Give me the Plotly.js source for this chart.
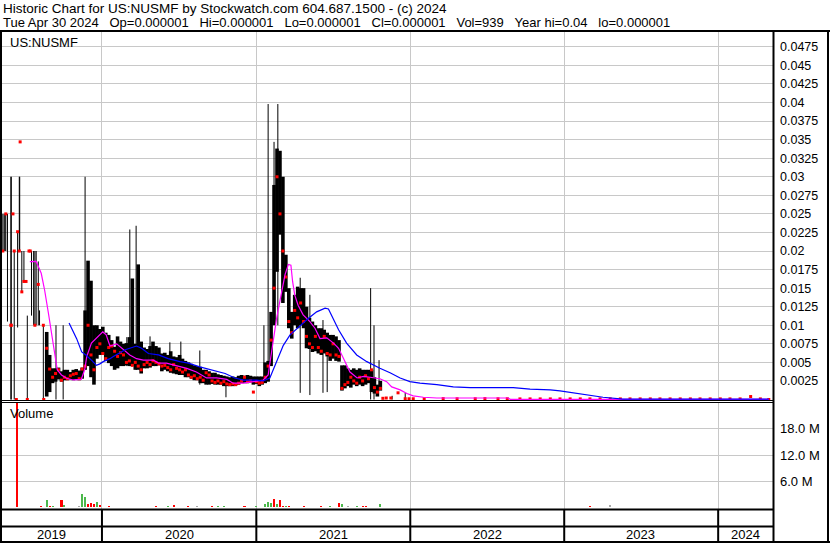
<!DOCTYPE html>
<html><head><meta charset="utf-8">
<script src="https://cdn.plot.ly/plotly-3.0.1.min.js"></script>
<style>html,body{margin:0;padding:0;background:#fff;}#chart{width:830px;height:543px;}</style>
</head><body><div id="chart"></div>
<script>
// ---------- DATA ----------
const weekDates = ['2019-05-10','2019-05-17','2019-05-24','2019-05-31','2019-06-07','2019-06-14','2019-06-21','2019-06-28','2019-07-05','2019-07-12','2019-07-19','2019-07-26','2019-08-02','2019-08-09','2019-08-16','2019-08-23','2019-08-30','2019-09-06','2019-09-13','2019-09-20','2019-09-27','2019-10-04','2019-10-11','2019-10-18','2019-10-25','2019-11-01','2019-11-08','2019-11-15','2019-11-22','2019-11-29','2019-12-06','2019-12-13','2019-12-20','2019-12-27',
'2020-01-03','2020-01-10','2020-01-17','2020-01-24','2020-01-31','2020-02-07','2020-02-14','2020-02-21','2020-02-28','2020-03-06','2020-03-13','2020-03-20','2020-03-27','2020-04-03','2020-04-10','2020-04-17','2020-04-24','2020-05-01','2020-05-08','2020-05-15','2020-05-22','2020-05-29','2020-06-05','2020-06-12','2020-06-19','2020-06-26','2020-07-03','2020-07-10','2020-07-17','2020-07-24','2020-07-31','2020-08-07','2020-08-14','2020-08-21','2020-08-28','2020-09-04','2020-09-11','2020-09-18','2020-09-25','2020-10-02','2020-10-09','2020-10-16','2020-10-23','2020-10-30','2020-11-06','2020-11-13','2020-11-20','2020-11-27','2020-12-04','2020-12-11','2020-12-18','2020-12-25',
'2021-01-01','2021-01-08','2021-01-15','2021-01-22','2021-01-29','2021-02-05','2021-02-12','2021-02-19','2021-02-26','2021-03-05','2021-03-12','2021-03-19','2021-03-26','2021-04-02','2021-04-09','2021-04-16','2021-04-23','2021-04-30','2021-05-07','2021-05-14','2021-05-21','2021-05-28','2021-06-04','2021-06-11','2021-06-18','2021-06-25','2021-07-02','2021-07-09','2021-07-16','2021-07-23','2021-07-30','2021-08-06','2021-08-13','2021-08-20','2021-08-27','2021-09-03','2021-09-10','2021-09-17','2021-09-24','2021-10-01','2021-10-08','2021-10-15','2021-10-22','2021-10-29','2021-11-05','2021-11-12','2021-11-19','2021-11-26','2021-12-03','2021-12-10','2021-12-17','2021-12-24','2021-12-31'];

const N = null;
// weekly trading range (dense part of the chart)
const wkHi = [N,N,N,N,N,N,N,N,N,N,N,N,N,N,N,
.0091,.0060,.0042,.0042,.0043,.0038,.0040,.0040,.0037,.0040,.0041,.0039,.0043,.0120,.0187,.0160,.0100,.0100,.0095,
.0098,.0090,.0087,.0080,.0071,.0085,.0078,.0075,.0076,.0084,.0163,.0075,.0182,.0078,.0070,.0068,.0072,.0078,.0072,.0070,.0062,.0063,.0060,.0065,.0058,.0057,.0060,.0055,.0052,.0050,.0048,.0046,.0045,.0044,.0040,.0040,.0038,.0036,.0036,.0034,.0033,.0032,.0031,.0030,.0031,.0030,.0032,.0033,.0032,.0033,.0032,.0031,
.0031,.0031,.0031,.0050,.0052,.0118,.0289,.0338,.0335,.0300,.0195,.0150,.0118,.0141,.0152,.0150,.0150,.0125,.0110,.0105,.0100,.0096,.0096,.0094,.0090,.0087,.0087,.0085,.0080,.0046,.0046,.0042,.0040,.0042,.0040,.0042,.0040,.0040,.0040,.0040,.0030,.0020,.0025,
N,N,N,N,N,N,N,N,N,N];
const wkLo = [N,N,N,N,N,N,N,N,N,N,N,N,N,N,N,
.0004,.0010,.0022,.0024,.0027,.0024,.0026,.0026,.0027,.0026,.0027,.0026,.0028,.0040,.0045,.0030,.0020,.0055,.0060,
.0060,.0052,.0049,.0045,.0040,.0042,.0045,.0045,.0046,.0045,.0045,.0040,.0040,.0035,.0042,.0042,.0043,.0045,.0045,.0046,.0038,.0040,.0038,.0036,.0035,.0034,.0033,.0033,.0030,.0030,.0028,.0026,.0026,.0022,.0022,.0020,.0020,.0021,.0020,.0020,.0020,.0018,.0018,.0018,.0018,.0019,.0020,.0022,.0022,.0022,.0023,.0020,
.0021,.0018,.0020,.0022,.0024,.0045,.0100,.0172,.0222,.0130,.0145,.0096,.0082,.0100,.0096,.0100,.0096,.0069,.0068,.0064,.0065,.0062,.0060,.0062,.0058,.0052,.0055,.0052,.0051,.0012,.0015,.0018,.0016,.0020,.0018,.0020,.0018,.0020,.0022,.0010,.0008,.0004,.0012,
N,N,N,N,N,N,N,N,N,N];
const wkCl = [N,N,N,N,N,N,N,N,N,N,N,N,N,N,N,
.0069,.0041,.0030,.0035,.0040,.0026,.0030,.0028,.0032,.0034,.0035,.0028,.0041,.0045,.0100,.0060,.0040,.0070,.0075,
.0062,.0055,.0070,.0072,.0065,.0058,.0063,.0060,.0050,.0052,.0046,.0050,.0045,.0040,.0047,.0050,.0047,.0052,.0050,.0048,.0045,.0046,.0043,.0040,.0047,.0042,.0040,.0037,.0040,.0033,.0030,.0032,.0028,.0030,.0026,.0036,.0033,.0025,.0023,.0025,.0022,.0024,.0021,.0020,.0021,.0020,.0022,.0025,.0030,.0024,.0025,.0010,
.0024,.0022,.0023,.0030,.0045,.0080,.0150,.0300,.0250,.0200,.0165,.0105,.0090,.0120,.0110,.0130,.0105,.0085,.0075,.0070,.0085,.0070,.0065,.0085,.0062,.0060,.0075,.0060,.0058,.0015,.0020,.0023,.0030,.0025,.0022,.0030,.0025,.0032,.0028,.0040,.0016,.0010,.0015,
N,N,N,N,N,N,N,N,N,N];
// weekly volume in millions of shares, direction u=up d=down n=unchanged
const wkVol = [.15,.1,.12,.1,.15,30,.2,.1,.12,.1,.1,.15,.1,.3,.2,1.7,.3,.35,.15,.2,1.7,.5,.1,.2,.1,.2,.25,3.2,2.5,.9,1.0,.7,1.2,.6,
.2,.15,.25,.1,.15,.1,.2,.1,.1,.15,.2,.1,.15,.1,.1,.15,.1,.2,.35,.1,.15,.1,.3,.15,.65,.1,.15,.1,.2,.3,.1,.15,.3,.1,.15,.1,.2,.35,.15,.3,.1,.3,.1,.15,.1,.2,.15,.2,.3,.15,.2,.15,
.25,.2,.15,.8,1.2,1.1,1.95,.8,1.7,.45,.3,.25,.2,.15,.2,.15,.25,.15,.2,.1,.15,.1,.35,.1,.15,.35,.1,.15,1.1,.8,.15,.3,.15,.1,.35,.1,.3,.3,.1,.15,.1,.1,.8,.1,.15,.1,.1,.1,.15,.1,.1,.1,.15];
const wkDir = ['u','d','u','d','d','d','d','u','d','u','u','d','d','d','d','u','d','u','d','d','d','u','d','n','d','u','n','u','u','d','d','d','u','d',
'n','u','d','u','d','d','d','u','d','d','u','d','d','d','u','d','d','d','d','u','d','d','u','d','d','u','d','d','d','d','u','n','n','d','u','d','d','d','u','u','d','u','d','n','d','u','d','u','d','d','u','d',
'u','n','d','u','u','u','d','u','d','d','u','d','d','n','d','n','d','u','u','d','d','d','d','u','d','u','d','d','d','u','d','n','d','n','u','d','d','d','d','n','d','u','u','d','n','d','n','d','u','n','d','n','u'];

// single-day wide-range bars
const spDate = ['2019-05-11','2019-05-14','2019-05-16','2019-05-18','2019-05-22','2019-05-30','2019-05-31','2019-06-07','2019-06-15','2019-06-19','2019-06-20','2019-06-25','2019-06-30','2019-07-08','2019-07-18','2019-07-23','2019-07-26','2019-07-29','2019-08-03','2019-08-06','2019-08-15','2019-09-14','2019-10-01','2019-11-22','2019-12-15',
'2020-02-29','2020-03-07','2020-03-22','2020-04-24','2020-06-10','2020-07-06','2020-08-20','2020-10-21',
'2021-01-19','2021-01-29','2021-02-12','2021-02-21','2021-04-15','2021-05-08','2021-06-08','2021-06-18','2021-09-29','2021-10-07','2021-10-19','2021-11-19','2021-12-20'];
const spHi = [.025,.025,.025,.025,.025,.030,.030,.020,.0226,.030,.030,.020,.020,.0113,.020,.020,.020,.020,.0186,.012,.010,.010,.010,.030,.0095,
.0084,.0229,.0234,.0085,.0077,.0078,.0066,.0031,
.0100,.0398,.0347,.0398,.0164,.0141,.0107,.0087,.0150,.0100,.0053,.0005,.0009];
const spLo = [.020,.020,.020,.020,.0105,0,0,0,.0097,.020,.020,.0145,.0159,0,.0113,.010,.010,.010,.010,.010,0,0,0,.0040,.0025,
.0045,.0045,.0040,.0045,.0040,.0035,.0020,.0003,
.0030,.0030,.0150,.0100,.0009,.0006,.0009,.0010,0,0,.0015,0,0];

// closes shown outside the weekly ranges
const dotDate = ['2019-05-11','2019-05-18','2019-05-30','2019-05-31','2019-06-04','2019-06-07','2019-06-12','2019-06-15','2019-06-19','2019-06-21','2019-06-25','2019-06-30','2019-07-05','2019-07-08','2019-07-12','2019-07-15','2019-07-26','2019-08-03','2019-08-15','2019-08-16',
'2021-10-28','2021-11-05','2021-11-16','2021-12-03','2021-12-20','2021-12-29'];
const dotVal = [.020,.025,.010,.010,.025,.020,0,.0226,.020,.0347,.0145,.0159,.0159,0,.020,.020,.010,.0155,.010,0,
.00016,.0002,.0002,.0009,.0001,.0001];

// 2022-2024: closes and volume
const lateDate = ['2022-01-08','2022-02-03','2022-03-20','2022-04-22','2022-06-04','2022-06-27','2022-07-28','2022-08-19','2022-09-18','2022-10-12','2022-11-05','2022-11-29','2022-12-22','2023-01-15','2023-02-08','2023-03-03','2023-03-27','2023-04-20','2023-05-14','2023-06-06','2023-06-30','2023-07-24','2023-08-16','2023-09-09','2023-10-03','2023-10-27','2023-11-19','2023-12-13','2024-01-06','2024-01-29','2024-02-22','2024-03-18','2024-04-10','2024-04-30'];
const lateClose = [.0001,.0001,.00012,.0001,.0001,.00012,.0001,.0001,.00008,.00008,.00008,.00008,.00008,.00008,.00008,.00008,.00008,.00008,.00008,.00008,.00008,.00008,.00008,.00008,.00008,.00008,.00008,.00008,.00008,.00008,.00008,.0004,.00008,.000001];
const lateVol = [.1,.15,.1,.1,.15,.1,.1,.15,.1,.15,.1,.1,.15,.1,.2,.35,.2,.6,.15,.1,.15,.1,.15,.1,.15,.1,.15,.1,.15,.1,.15,.1,.1,.0009];
const lateDir = ['d','u','d','n','d','u','d','d','n','d','n','d','n','n','n','d','n','n','u','d','n','d','u','n','n','d','n','d','d','u','d','d','d','n'];

// moving averages (pink = short, blue = long)
const pinkDate = ['2019-07-14','2019-07-29','2019-08-10','2019-08-18','2019-08-27','2019-09-03','2019-09-11','2019-09-17','2019-09-27','2019-10-09','2019-10-25','2019-11-13','2019-11-21','2019-11-26','2019-12-07','2019-12-23',
'2020-01-03','2020-01-11','2020-01-20','2020-02-05','2020-02-17','2020-03-07','2020-03-23','2020-04-08','2020-05-02','2020-05-14','2020-06-02','2020-06-26','2020-07-20','2020-08-12','2020-08-28','2020-09-05','2020-09-29','2020-10-23','2020-11-07','2020-12-01','2020-12-25',
'2021-01-17','2021-01-29','2021-02-06','2021-02-18','2021-02-27','2021-03-10','2021-03-18','2021-03-24','2021-03-28','2021-04-02','2021-04-10','2021-04-22','2021-05-08','2021-05-20','2021-06-01','2021-06-17','2021-07-03','2021-07-15','2021-07-27','2021-08-11','2021-08-28','2021-09-12','2021-09-28','2021-10-21','2021-11-06','2021-11-18','2021-12-08','2021-12-24',
'2022-01-08','2022-02-01','2022-03-05','2022-08-21','2022-08-26','2024-04-30'];
const pinkVal = [.01856,.0186,.0170,.01475,.01165,.0089,.00577,.0040,.0033,.00286,.00263,.00272,.0040,.0058,.0076,.0085,
.0091,.0087,.0072,.0075,.0069,.0060,.0055,.0053,.0053,.0049,.0049,.0046,.0042,.0037,.0031,.0029,.0029,.0027,.0022,.0022,.0024,
.0026,.0033,.0064,.0109,.0136,.0168,.0182,.0181,.0159,.0141,.0127,.0114,.0105,.0096,.0082,.0083,.0076,.0069,.0055,.0037,.0029,.0031,.0030,.0028,.0024,.0017,.0013,.0008,
.0005,.0003,.0002,.0002,.00003,.00003];
const blueDate = ['2019-10-15','2019-11-02','2019-11-14','2019-11-24','2019-12-07','2019-12-19','2019-12-27',
'2020-01-04','2020-01-20','2020-01-28','2020-02-25','2020-03-23','2020-04-04','2020-04-20','2020-05-14','2020-06-06','2020-07-04','2020-07-24','2020-08-20','2020-09-21','2020-10-19','2020-11-11','2020-12-01',
'2021-01-02','2021-01-17','2021-02-02','2021-02-18','2021-03-06','2021-03-22','2021-04-15','2021-05-04','2021-05-24','2021-06-13','2021-06-21','2021-06-29','2021-07-15','2021-08-03','2021-08-27','2021-09-20','2021-10-13','2021-10-21','2021-11-14','2021-12-08','2021-12-31',
'2022-01-24','2022-03-05','2022-04-13','2022-05-23','2022-09-02','2022-10-12','2022-11-29','2022-12-22',
'2023-01-22','2023-02-24','2023-04-03','2023-05-20','2024-04-30'];
const blueVal = [.0103,.0082,.0064,.0060,.0053,.0046,.0048,
.0051,.0055,.0058,.0067,.0072,.0069,.0062,.0060,.0055,.0051,.0049,.0044,.0039,.0035,.0029,.0026,
.0026,.0025,.0029,.0051,.0073,.0087,.0100,.0109,.0118,.0123,.0122,.0112,.0094,.0076,.0060,.0051,.0044,.0042,.0036,.0029,.0024,
.0022,.0020,.0017,.0016,.0016,.0014,.0013,.00115,
.0009,.0006,.0003,.00004,.00004];

const yearLabels = ['2019','2020','2021','2022','2023','2024'];
const priceTickText = ['0.0025','0.005','0.0075','0.01','0.0125','0.015','0.0175','0.02','0.0225','0.025','0.0275','0.03','0.0325','0.035','0.0375','0.04','0.0425','0.045','0.0475'];
const volTickText = ['6.0 M','12.0 M','18.0 M'];
const headerLine1 = 'Historic Chart for US:NUSMF by Stockwatch.com 604.687.1500 - (c) 2024';
const headerLine2 = ['Tue Apr 30 2024','Op=0.000001','Hi=0.000001','Lo=0.000001','Cl=0.000001','Vol=939','Year hi=0.04','lo=0.000001'];

// ---------- BUILD ----------
const X0 = '2019-05-09', X1 = '2024-05-10';
const L = 2, R = 773, T = 32, B = 509;
const px = x => (x - L) / (R - L);
const py = y => (B - y) / (B - T);

function segs(dates, hi, lo) {
  const xs = [], ys = [];
  for (let i = 0; i < dates.length; i++) {
    if (hi[i] == null || lo[i] == null) continue;
    xs.push(dates[i], dates[i], null);
    ys.push(lo[i], hi[i], null);
  }
  return {xs, ys};
}
const thick = segs(weekDates, wkHi, wkLo);
const thin = segs(spDate, spHi, spLo);
const colorOf = d => d === 'u' ? '#4cb84c' : (d === 'd' ? '#ff0000' : '#a8a8a8');

const dotsX = [], dotsY = [];
weekDates.forEach((d, i) => { if (wkCl[i] != null) { dotsX.push(d); dotsY.push(wkCl[i]); } });
dotDate.forEach((d, i) => { dotsX.push(d); dotsY.push(dotVal[i]); });
lateDate.forEach((d, i) => { dotsX.push(d); dotsY.push(lateClose[i]); });

const volX = weekDates.concat(lateDate);
const volY = wkVol.concat(lateVol);
const volC = wkDir.concat(lateDir).map(colorOf);

const traces = [
  {type:'bar', x:volX, y:volY, xaxis:'x', yaxis:'y2', marker:{color:volC, line:{width:0}}, width:5*86400000, hoverinfo:'skip'},
  {type:'scatter', mode:'lines', x:thin.xs, y:thin.ys, line:{color:'#000', width:1}, connectgaps:false, hoverinfo:'skip'},
  {type:'scatter', mode:'lines', x:thick.xs, y:thick.ys, line:{color:'#000', width:3.6}, connectgaps:false, hoverinfo:'skip'},
  {type:'scatter', mode:'markers', x:dotsX, y:dotsY, marker:{symbol:'square', size:3, color:'#ff0000', line:{width:0}}, hoverinfo:'skip'},
  {type:'scatter', mode:'lines', x:pinkDate, y:pinkVal, line:{color:'#ff00ff', width:1.2}, hoverinfo:'skip'},
  {type:'scatter', mode:'lines', x:blueDate, y:blueVal, line:{color:'#0000ff', width:1.2}, hoverinfo:'skip'}
];

const yearStarts = yearLabels.slice(1).map(y => y + '-01-01');
const t0 = Date.parse(X0), t1 = Date.parse(X1);
const yearCenters = yearLabels.map(y => {
  const a = Math.max(Date.parse(y + '-01-01'), t0);
  const b = Math.min(Date.parse((+y + 1) + '-01-01'), t1);
  return new Date((a + b) / 2).toISOString().slice(0, 10);
});

const FONT = 'Liberation Sans, Arial, sans-serif';
const fs = 12.5;
const line = (x0, y0, x1, y1, w) => ({type:'line', xref:'paper', yref:'paper', x0:px(x0), y0:py(y0), x1:px(x1), y1:py(y1), line:{color:'#000', width:w}, layer:'above'});
const shapes = [
  line(0, 31, 830, 31, 2),
  line(1, 31, 1, 543, 2),
  line(773.5, 31, 773.5, 543, 2),
  line(828, 31, 828, 543, 2),
  line(0, 400.5, 773, 400.5, 1),
  line(0, 402.5, 773, 402.5, 1),
  line(0, 509.5, 773, 509.5, 2),
  line(0, 526.5, 773, 526.5, 2),
  line(0, 542, 830, 542, 2)
].concat(yearStarts.map(d => ({type:'line', xref:'x', yref:'paper', x0:d, x1:d, y0:py(509), y1:py(542), line:{color:'#000', width:2}, layer:'above'})));

const nb = '\u00a0\u00a0\u00a0';
const ann = (x, y, text, size) => ({xref:'paper', yref:'paper', x:px(x), y:py(y), text:text, showarrow:false, xanchor:'left', yanchor:'middle', font:{family:FONT, size:size || fs, color:'#000'}});
const annotations = [
  ann(1, 8, headerLine1, 13.5),
  ann(1, 22, headerLine2.join(nb), 13),
  ann(8, 42, 'US:NUSMF', 13),
  ann(8, 413, 'Volume', 13)
].concat(yearLabels.map((y, i) => ({xref:'x', yref:'paper', x:yearCenters[i], y:py(534), text:y, showarrow:false, xanchor:'center', yanchor:'middle', font:{family:FONT, size:13, color:'#000'}})));

const priceTicks = priceTickText.map(Number);
const volTicks = volTickText.map(s => parseFloat(s));

const layout = {
  width:830, height:543,
  margin:{l:L, r:830 - R, t:T, b:543 - B, pad:0},
  paper_bgcolor:'#fff', plot_bgcolor:'#fff', showlegend:false,
  font:{family:FONT, size:fs, color:'#000'},
  xaxis:{type:'date', range:[X0, X1], tickvals:yearStarts, showticklabels:false, ticks:'', showgrid:true, gridcolor:'#c8c8c8', gridwidth:1, zeroline:false, showline:false, anchor:'y2', fixedrange:true},
  yaxis:{domain:[py(400), 1], range:[-0.0000674, 0.0495], side:'right', anchor:'x', tickvals:priceTicks, ticktext:priceTickText, showgrid:true, gridcolor:'#c8c8c8', gridwidth:1, zeroline:false, showline:false, ticks:'', ticklabelstandoff:6, tickfont:{family:FONT, size:fs, color:'#000'}, fixedrange:true},
  yaxis2:{domain:[0, py(403)], range:[-0.35, 23.93], side:'right', anchor:'x', tickvals:volTicks, ticktext:volTickText, showgrid:true, gridcolor:'#c8c8c8', gridwidth:1, zeroline:false, showline:false, ticks:'', ticklabelstandoff:6, tickfont:{family:FONT, size:13, color:'#000'}, fixedrange:true},
  bargap:0,
  shapes:shapes, annotations:annotations
};
Plotly.newPlot('chart', traces, layout, {displayModeBar:false, staticPlot:true});
</script>
</body></html>
